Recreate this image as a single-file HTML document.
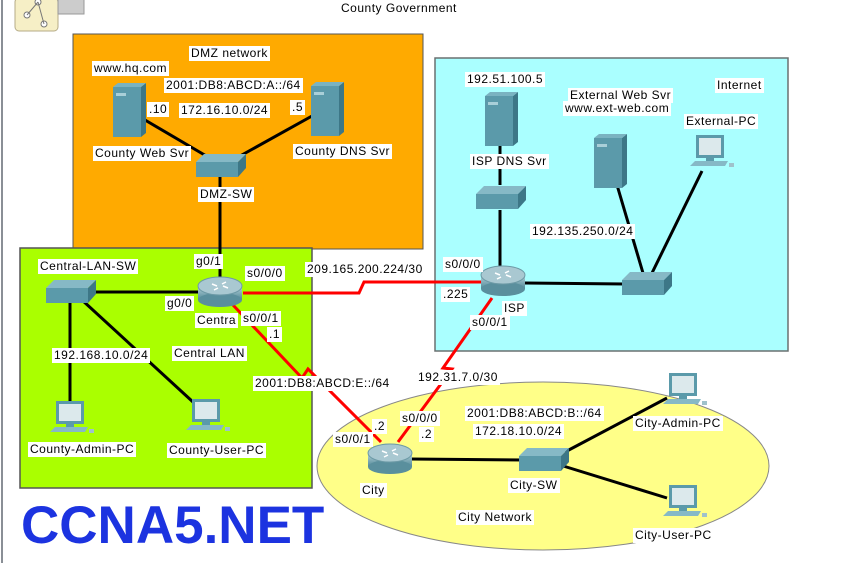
<!DOCTYPE html>
<html><head><meta charset="utf-8"><style>
body{margin:0;width:862px;height:563px;overflow:hidden;background:#fff;position:relative;font-family:"Liberation Sans",sans-serif}
svg{position:absolute;left:0;top:0}
.l{position:absolute;font-size:12px;letter-spacing:0.5px;line-height:15px;background:#fff;padding:0 2px;white-space:nowrap;color:#000}
.big{position:absolute;left:21px;top:495px;font-size:53px;font-weight:bold;color:#1c33e0;font-family:"Liberation Sans",sans-serif}
</style></head><body>
<svg width="862" height="563" viewBox="0 0 862 563">
<defs>
<linearGradient id="rt" x1="0" y1="0" x2="0" y2="1"><stop offset="0" stop-color="#b8d4dc"/><stop offset="1" stop-color="#4f8796"/></linearGradient>
<g id="srv"><rect x="0" y="0" width="28" height="50" fill="#5b9aaa"/><polygon points="28,0 33,-4 33,46 28,50" fill="#3d7787"/><polygon points="0,0 5,-4 33,-4 28,0" fill="#7ab3c1"/><rect x="3" y="6" width="10" height="3" fill="#a9cfd8"/></g>
<g id="sw"><polygon points="0,8 8,0 50,0 42,8" fill="#86b9c6"/><rect x="0" y="8" width="42" height="15" fill="#5b9aaa"/><polygon points="42,8 50,0 50,14 42,23" fill="#3d7787"/></g>
<g id="rtr"><rect x="-22" y="-6" width="44" height="14" fill="url(#rt)"/><ellipse cx="0" cy="8" rx="22" ry="7" fill="#5a8f9d"/><ellipse cx="0" cy="-6" rx="22" ry="9" fill="#a9c8d1" stroke="#6d9aa6"/><path d="M-8,-8 l5,2 M8,-4 l-5,-2 M-6,-2 l4,-2 M6,-10 l-4,2" stroke="#fff" stroke-width="1.5"/></g>
<g id="pc"><rect x="6" y="0" width="28" height="23" fill="#5b9aaa"/><rect x="9" y="3" width="22" height="17" fill="#dce9ec"/><rect x="16" y="23" width="8" height="3" fill="#5b9aaa"/><polygon points="0,31 5,26 38,26 35,31" fill="#86b9c6"/><rect x="39" y="28" width="5" height="4" fill="#9fc2cb"/></g>
</defs>
<line x1="2" y1="0" x2="2" y2="563" stroke="#8a8f96" stroke-width="2"/>
<rect x="15" y="-2" width="43" height="33" rx="4" fill="#f6efc6" stroke="#b5ab87"/>
<circle cx="38" cy="2" r="3" fill="#fff" stroke="#777"/><circle cx="27" cy="15" r="3" fill="#fff" stroke="#777"/><circle cx="44" cy="24" r="3" fill="#fff" stroke="#777"/>
<path d="M38,2 L27,15 M38,2 L44,24" stroke="#777"/>
<rect x="58" y="-2" width="26" height="16" fill="#ccc" stroke="#999"/>
<rect x="73" y="34" width="350" height="215" fill="#ffaa00" stroke="#555"/>
<rect x="435" y="58" width="353" height="293" fill="#aaffff" stroke="#6a7070" stroke-width="1.5"/>
<rect x="20" y="248" width="292" height="240" fill="#aaff00" stroke="#555" stroke-width="1.5"/>
<ellipse cx="543" cy="466" rx="226" ry="84" fill="#ffff88" stroke="#888"/>
<g stroke="#000" stroke-width="3" fill="none">
<line x1="145" y1="120" x2="208" y2="157"/><line x1="312" y1="116" x2="240" y2="156"/>
<line x1="220" y1="175" x2="220" y2="285"/>
<line x1="95" y1="292" x2="200" y2="292"/>
<line x1="70" y1="300" x2="70" y2="405"/><line x1="82" y1="300" x2="193" y2="402"/>
<line x1="500" y1="145" x2="500" y2="185"/><line x1="500" y1="210" x2="500" y2="275"/>
<line x1="525" y1="283" x2="625" y2="284"/>
<line x1="617" y1="185" x2="643" y2="273"/><line x1="702" y1="171" x2="652" y2="273"/>
<line x1="410" y1="459" x2="525" y2="460"/>
<line x1="565" y1="452" x2="667" y2="398"/><line x1="560" y1="465" x2="667" y2="498"/>
</g>
<g stroke="#f00" stroke-width="3" fill="none">
<polyline points="243,293 359,293 364,282 483,282"/>
<polyline points="233,305 302,378 308,369 381,442"/>
<polyline points="492,298 443,368 452,369 398,442"/>
</g>
<use href="#srv" x="113" y="87"/><use href="#srv" x="311" y="86"/>
<use href="#sw" x="196" y="154"/><use href="#sw" x="46" y="280"/>
<use href="#rtr" x="220" y="292"/>
<use href="#pc" x="50" y="401"/><use href="#pc" x="186" y="399"/>
<use href="#srv" x="485" y="96"/><use href="#sw" x="476" y="186"/>
<use href="#srv" x="594" y="138"/><use href="#pc" x="690" y="135"/>
<use href="#rtr" x="503" y="281"/><use href="#sw" x="622" y="272"/>
<use href="#rtr" x="390" y="459"/><use href="#sw" x="519" y="448"/>
<use href="#pc" x="663" y="373"/><use href="#pc" x="663" y="485"/>
</svg>
<div class="l" style="left:339px;top:1px">County Government</div>
<div class="l" style="left:189px;top:46px">DMZ network</div>
<div class="l" style="left:92px;top:61px">www.hq.com</div>
<div class="l" style="left:164px;top:78px">2001:DB8:ABCD:A::/64</div>
<div class="l" style="left:147px;top:102px">.10</div>
<div class="l" style="left:179px;top:103px">172.16.10.0/24</div>
<div class="l" style="left:290px;top:100px">.5</div>
<div class="l" style="left:93px;top:146px">County Web Svr</div>
<div class="l" style="left:293px;top:144px">County DNS Svr</div>
<div class="l" style="left:198px;top:187px">DMZ-SW</div>
<div class="l" style="left:38px;top:259px">Central-LAN-SW</div>
<div class="l" style="left:194px;top:254px">g0/1</div>
<div class="l" style="left:245px;top:266px">s0/0/0</div>
<div class="l" style="left:305px;top:262px">209.165.200.224/30</div>
<div class="l" style="left:165px;top:296px">g0/0</div>
<div class="l" style="left:195px;top:313px">Centra</div>
<div class="l" style="left:241px;top:311px">s0/0/1</div>
<div class="l" style="left:267px;top:327px">.1</div>
<div class="l" style="left:52px;top:348px">192.168.10.0/24</div>
<div class="l" style="left:172px;top:346px">Central LAN</div>
<div class="l" style="left:253px;top:376px">2001:DB8:ABCD:E::/64</div>
<div class="l" style="left:28px;top:442px">County-Admin-PC</div>
<div class="l" style="left:167px;top:443px">County-User-PC</div>
<div class="l" style="left:465px;top:72px">192.51.100.5</div>
<div class="l" style="left:568px;top:88px">External Web Svr</div>
<div class="l" style="left:563px;top:101px">www.ext-web.com</div>
<div class="l" style="left:715px;top:78px">Internet</div>
<div class="l" style="left:684px;top:114px">External-PC</div>
<div class="l" style="left:470px;top:154px">ISP DNS Svr</div>
<div class="l" style="left:530px;top:224px">192.135.250.0/24</div>
<div class="l" style="left:443px;top:257px">s0/0/0</div>
<div class="l" style="left:441px;top:287px">.225</div>
<div class="l" style="left:502px;top:301px">ISP</div>
<div class="l" style="left:470px;top:315px">s0/0/1</div>
<div class="l" style="left:416px;top:370px">192.31.7.0/30</div>
<div class="l" style="left:465px;top:406px">2001:DB8:ABCD:B::/64</div>
<div class="l" style="left:400px;top:411px">s0/0/0</div>
<div class="l" style="left:372px;top:419px">.2</div>
<div class="l" style="left:419px;top:427px">.2</div>
<div class="l" style="left:473px;top:424px">172.18.10.0/24</div>
<div class="l" style="left:333px;top:432px">s0/0/1</div>
<div class="l" style="left:360px;top:483px">City</div>
<div class="l" style="left:508px;top:478px">City-SW</div>
<div class="l" style="left:456px;top:510px">City Network</div>
<div class="l" style="left:633px;top:416px">City-Admin-PC</div>
<div class="l" style="left:633px;top:528px">City-User-PC</div>
<div class="big">CCNA5.NET</div>
</body></html>
